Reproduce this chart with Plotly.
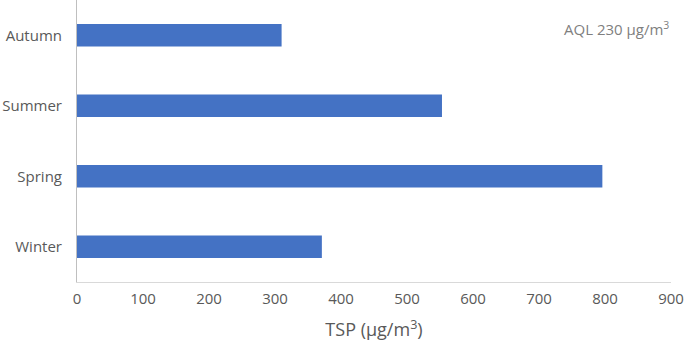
import plotly.graph_objects as go

seasons = ["Winter", "Spring", "Summer", "Autumn"]
tsp_values = [371, 796, 553, 310]
x_ticks = [0, 100, 200, 300, 400, 500, 600, 700, 800, 900]
annotation_text = "AQL 230 μg/m<sup>3</sup>"

fig = go.Figure(go.Bar(
    y=seasons, x=tsp_values, orientation="h",
    marker=dict(color="#4472C4", line=dict(width=0)),
))

fig.update_layout(
    width=685, height=345,
    margin=dict(l=77, r=14, t=0, b=63, autoexpand=False),
    paper_bgcolor="white", plot_bgcolor="white",
    bargap=0.68,
    showlegend=False,
    font=dict(family="Open Sans, Liberation Sans, sans-serif", color="#595959", size=15),
    xaxis=dict(
        range=[0, 900], tickvals=x_ticks, showgrid=False, zeroline=False,
        showline=True, linecolor="#D9D9D9", linewidth=1, ticks="",
        automargin=False, ticklabelstandoff=3,
        tickfont=dict(size=15, color="#595959"),
        title=dict(text="TSP (μg/m<sup>3</sup>)", font=dict(size=18, color="#595959"), standoff=16),
    ),
    yaxis=dict(
        showgrid=False, zeroline=False, showline=True, linecolor="#BFBFBF",
        linewidth=1, ticks="", ticklabelstandoff=11, automargin=False,
        tickfont=dict(size=15, color="#595959"),
    ),
    annotations=[dict(
        text=annotation_text, x=1.0, y=0.945, xref="paper", yref="paper",
        xanchor="right", yanchor="top", showarrow=False,
        font=dict(size=15, color="#7F7F7F"),
    )],
)

fig.write_html(
    "out.html",
    config={"displayModeBar": False},
    post_script="document.body.style.margin='0';document.body.style.padding='0';",
)
